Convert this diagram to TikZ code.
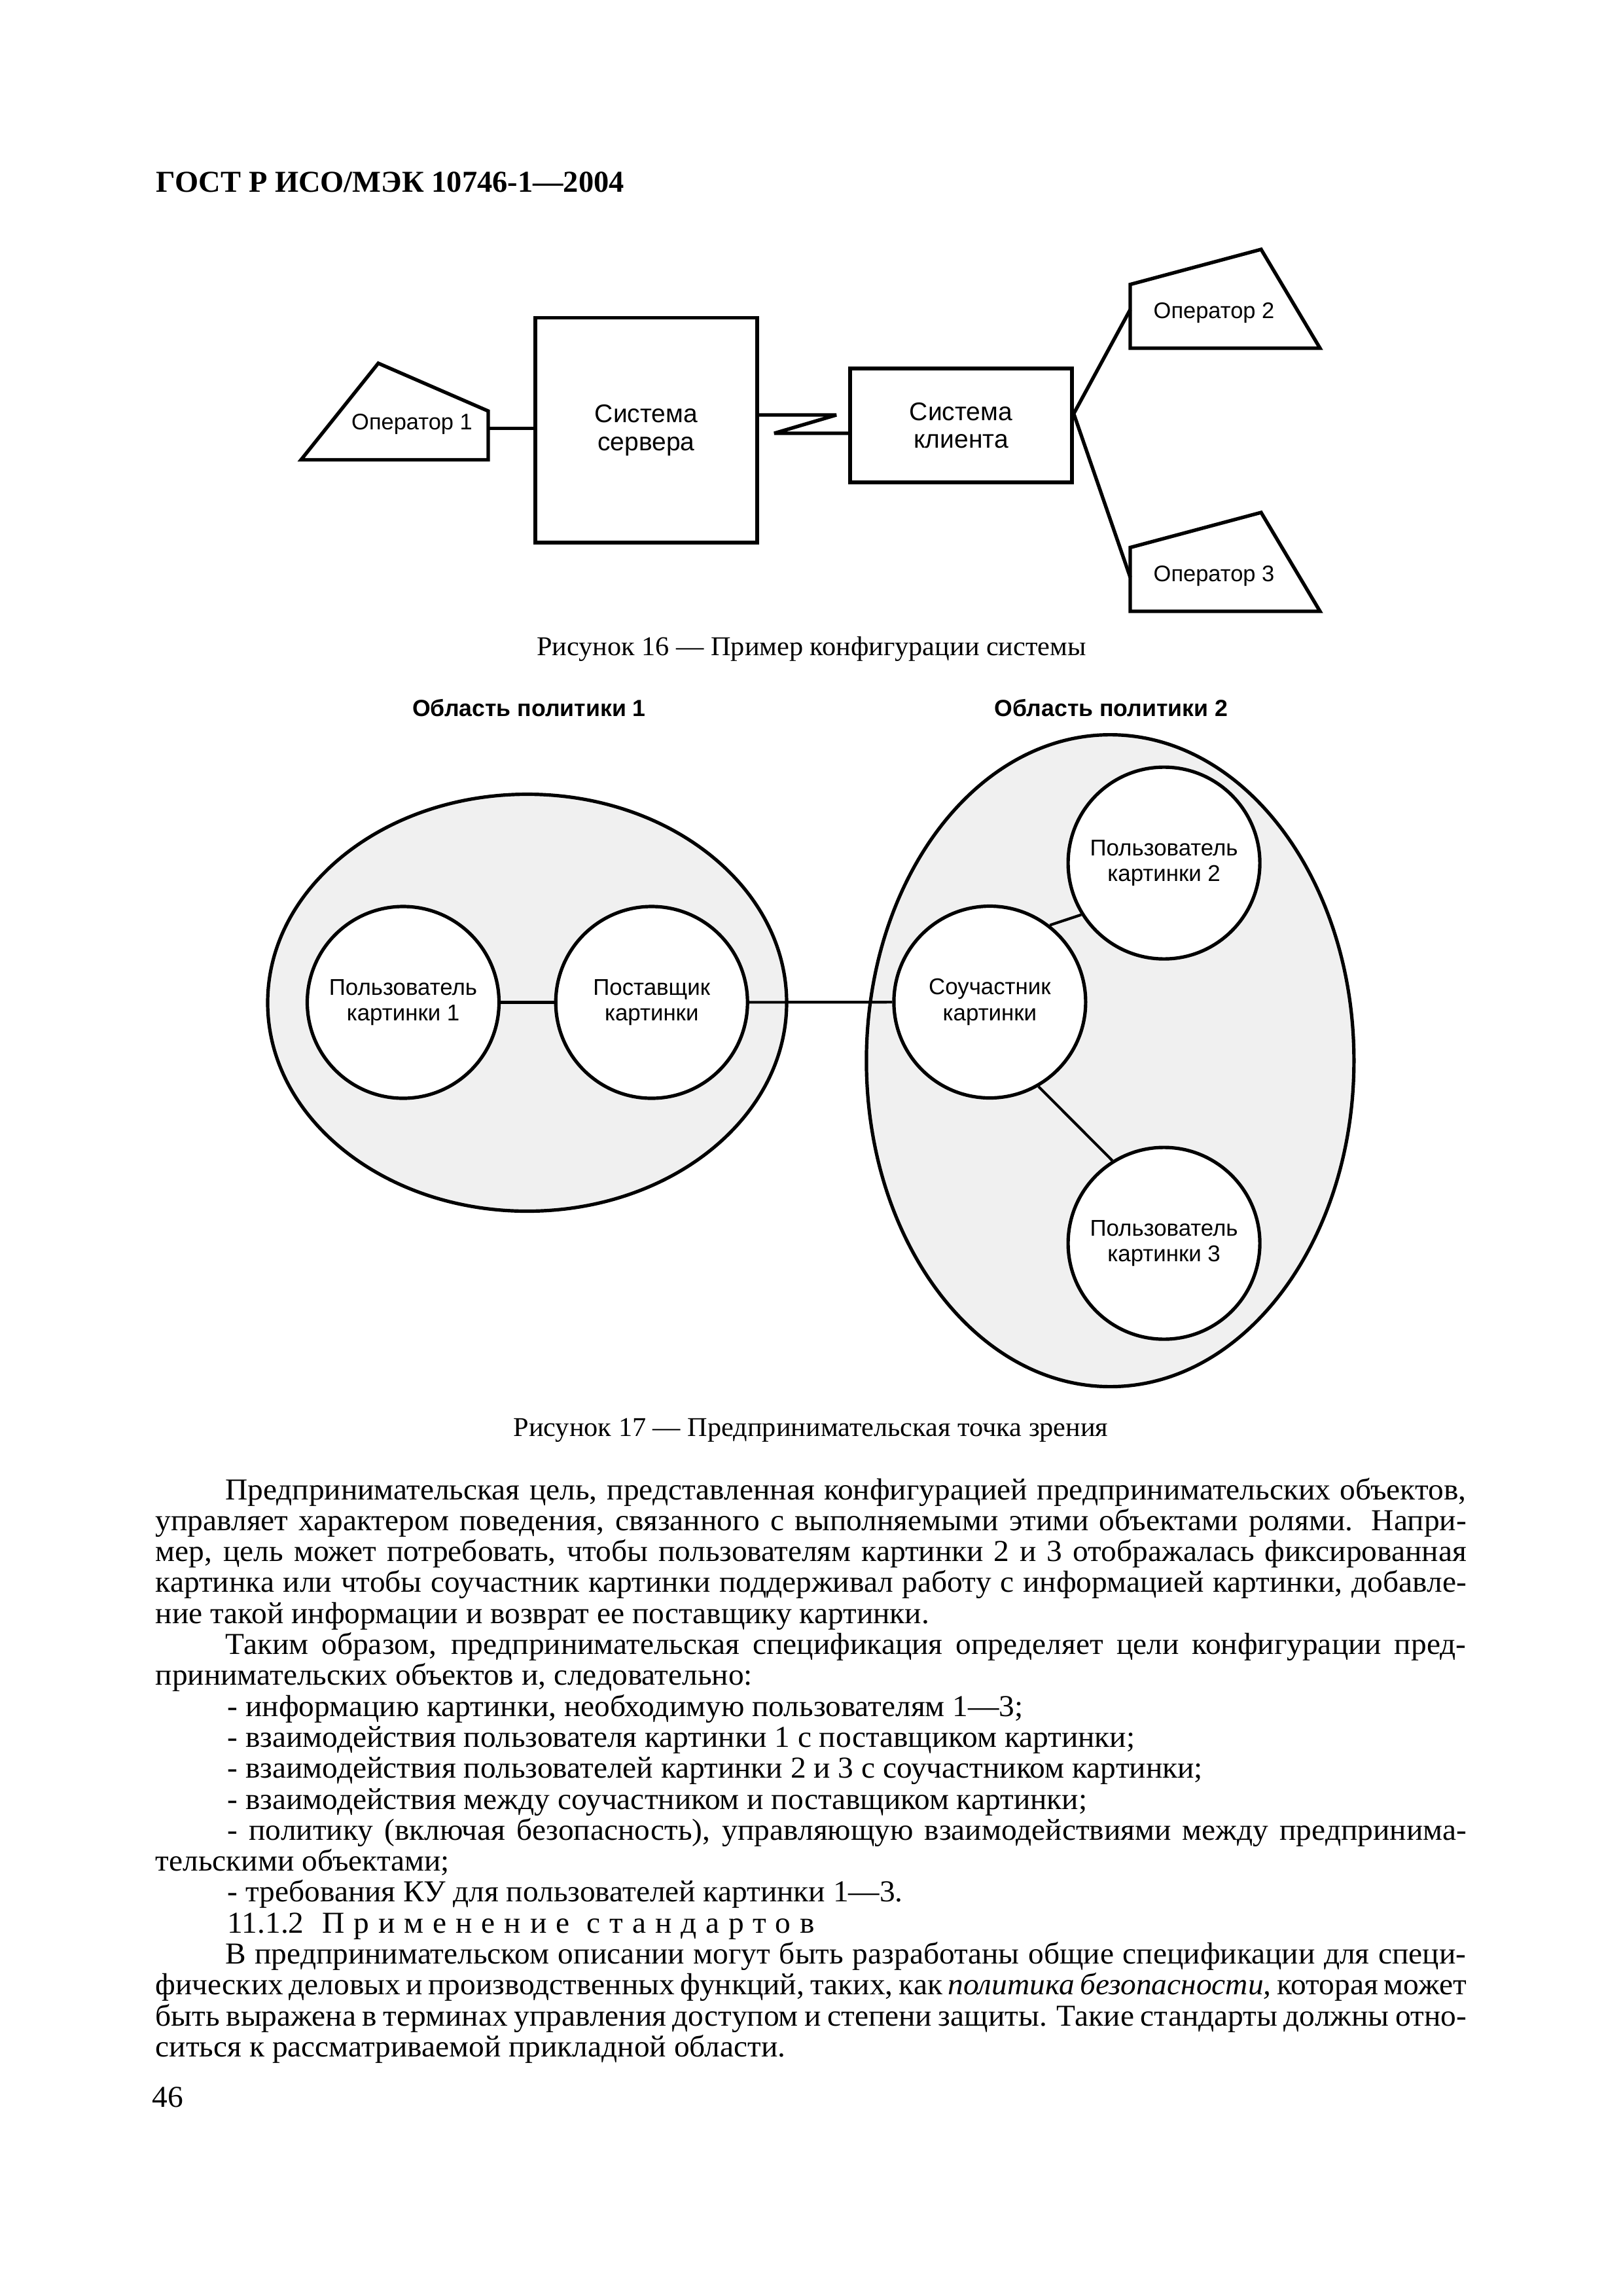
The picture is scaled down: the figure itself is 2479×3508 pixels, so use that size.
\documentclass[tikz,border=0pt]{standalone}
\usepackage{fontspec}
\setmainfont{Liberation Serif}
\setsansfont{Liberation Sans}
\newfontfamily\bodyfam{Liberation Serif}[FakeStretch=1.02]
\usetikzlibrary{shapes.geometric}
\newlength\pxu
\setlength\pxu{0.084711mm}
\newcommand\bodysz{\bodyfam\fontsize{11.2}{13}\selectfont}
\newcommand\capsz{\bodyfam\fontsize{10}{12}\selectfont}
\begin{document}
\begin{tikzpicture}[x=\pxu,y=-\pxu,
  shp/.style={line width=1.3pt, line join=miter},
  con/.style={line width=1.3pt},
  con2/.style={line width=1.0pt},
  box/.style={draw, shp, rectangle, inner sep=0pt, align=center, font=\sffamily\fontsize{9.4}{10.3}\selectfont},
  optext/.style={inner sep=0pt, anchor=base, font=\sffamily\fontsize{8.3}{9}\selectfont},
  circ/.style={draw, circle, line width=1.25pt, fill=white, minimum size=293*\pxu, inner sep=0pt, align=center, font=\sffamily\fontsize{8.4}{9.5}\selectfont},
  dom/.style={draw, ellipse, line width=1.25pt, fill=black!6, inner sep=0pt},
  domtitle/.style={inner sep=0pt, anchor=base, font=\sffamily\bfseries\fontsize{8.6}{9}\selectfont},
  txt/.style={inner sep=0pt, anchor=base west, font=\bodysz},
  figcap/.style={inner sep=0pt, anchor=base, font=\capsz},
]
\fill[white] (0,0) rectangle (2479,3508);
\useasboundingbox (0,0) rectangle (2479,3508);

% header
\node[inner sep=0pt, anchor=base west, font=\rmfamily\bfseries\fontsize{11.2}{13}\selectfont] (hdr) at (238,293) {ГОСТ Р ИСО/МЭК 10746-1—2004};

% ---------- Figure 16 ----------
\draw[shp] (460,702.5) -- (746,702.5) -- (746,628) -- (578,555) -- cycle;
\node[optext] (op1) at (629.5,656.6) {Оператор 1};
\coordinate (op1r) at (746,654.7);
\node[box, minimum width=339*\pxu, minimum height=343.5*\pxu] (srv) at (987.5,657.3) {Система\\сервера};
\draw[con] (op1r) -- (srv.west |- op1r);

\node[box, minimum width=339*\pxu, minimum height=174*\pxu] (cli) at (1468.5,650) {Система\\клиента};
\coordinate (z1) at (1278,634);
\coordinate (z2) at (1183,662);
\draw[con, line join=miter, miter limit=4] (srv.east |- z1) -- (z1) -- (z2) -- (cli.west |- z2);

\draw[shp] (1727,532) -- (2017,532) -- (1927,381) -- (1727,434.6) -- cycle;
\node[optext] (op2) at (1855,486.3) {Оператор 2};
\coordinate (op2l) at (1727,473);
\draw[shp] (1727,934) -- (2017,934) -- (1927,783) -- (1727,836.5) -- cycle;
\node[optext] (op3) at (1855,888) {Оператор 3};
\coordinate (op3l) at (1727,882);
\path (cli.east) ++(0,-18) coordinate (clij);
\draw[con] (op2l) -- (clij) -- (op3l);

\node[figcap] (cap16) at (1240,1001.7) {Рисунок 16 — Пример конфигурации системы};

% ---------- Figure 17 ----------
\node[domtitle] (dt1) at (808.5,1094) {Область политики 1};
\node[domtitle] (dt2) at (1698,1094) {Область политики 2};
\node[dom, minimum width=793*\pxu, minimum height=637*\pxu] (pd1) at (805.5,1532) {};
\node[dom, minimum width=745*\pxu, minimum height=996*\pxu] (pd2) at (1696.4,1620.6) {};
\node[circ] (u1) at (616,1531.5) {Пользователь\\картинки 1};
\node[circ] (sup) at (995.7,1531.5) {Поставщик\\картинки};
\node[circ] (so) at (1512.4,1531) {Соучастник\\картинки};
\node[circ] (u2) at (1778.6,1318.6) {Пользователь\\картинки 2};
\node[circ] (u3) at (1778.6,1899.6) {Пользователь\\картинки 3};
\draw[con2] (u1) -- (sup);
\draw[con2] (sup) -- (so);
\draw[con2] (so.52) -- (u2.212);
\draw[con2] (so.-60) -- (u3.122);

\node[figcap] (cap17) at (1239,2194) {Рисунок 17 — Предпринимательская точка зрения};

% ---------- Body text ----------
\node[txt] (t1) at (343.5,2291.0) {\makebox[1896\pxu][s]{Предпринимательская цель, представленная конфигурацией предпринимательских объектов,}};
\node[txt] (t2) at (237,2338.3) {\makebox[2003\pxu][s]{управляет характером поведения, связанного с выполняемыми этими объектами ролями. Напри-}};
\node[txt] (t3) at (237,2385.6) {\makebox[2003\pxu][s]{мер, цель может потребовать, чтобы пользователям картинки 2 и 3 отображалась фиксированная}};
\node[txt] (t4) at (237,2432.9) {\makebox[2003\pxu][s]{картинка или чтобы соучастник картинки поддерживал работу с информацией картинки, добавле-}};
\node[txt] (t5) at (237,2480.2) {ние такой информации и возврат ее поставщику картинки.};
\node[txt] (t6) at (343.5,2527.5) {\makebox[1896\pxu][s]{Таким образом, предпринимательская спецификация определяет цели конфигурации пред-}};
\node[txt] (t7) at (237,2574.8) {принимательских объектов и, следовательно:};
\node[txt] (t8) at (347,2622.1) {- информацию картинки, необходимую пользователям 1—3;};
\node[txt] (t9) at (347,2669.4) {- взаимодействия пользователя картинки 1 с поставщиком картинки;};
\node[txt] (t10) at (347,2716.7) {- взаимодействия пользователей картинки 2 и 3 с соучастником картинки;};
\node[txt] (t11) at (347,2764.0) {- взаимодействия между соучастником и поставщиком картинки;};
\node[txt] (t12) at (347,2811.3) {\makebox[1893\pxu][s]{- политику (включая безопасность), управляющую взаимодействиями между предпринима-}};
\node[txt] (t13) at (237,2858.6) {тельскими объектами;};
\node[txt] (t14) at (347,2905.9) {- требования КУ для пользователей картинки 1—3.};
\node[txt] (t15) at (347,2953.2) {11.1.2\hspace{0.6em}{\addfontfeature{LetterSpace=30}Применение стандартов}};
\node[txt] (t16) at (343.5,3000.5) {\makebox[1896\pxu][s]{В предпринимательском описании могут быть разработаны общие спецификации для специ-}};
\node[txt] (t17) at (237,3047.8) {\makebox[2003\pxu][s]{фических деловых и производственных функций, таких, как \textit{политика безопасности,} которая может}};
\node[txt] (t18) at (237,3095.1) {\makebox[2003\pxu][s]{быть выражена в терминах управления доступом и степени защиты. Такие стандарты должны отно-}};
\node[txt] (t19) at (237,3142.4) {ситься к рассматриваемой прикладной области.};
\node[txt] (pg) at (232,3219) {46};
\end{tikzpicture}
\end{document}
